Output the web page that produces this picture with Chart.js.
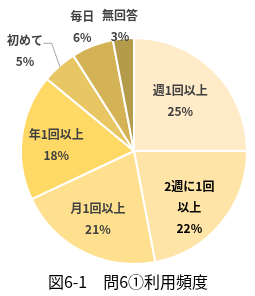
<!DOCTYPE html>
<html>
<head>
<meta charset="utf-8">
<script src="https://cdn.jsdelivr.net/npm/chart.js@4"></script>
<style>
  html, body { margin: 0; padding: 0; background: #fff; }
  #wrap { width: 255px; height: 296px; }
</style>
</head>
<body>
<div id="wrap"><canvas id="pieChart" width="255" height="296"></canvas></div>
<script>
// data
const categories = ['週1回以上', '2週に1回以上', '月1回以上', '年1回以上', '初めて', '毎日', '無回答'];
const percentValues = [25, 22, 21, 18, 5, 6, 3];
// how each label is split across lines
const labelLines = [['週1回以上'], ['2週に1回', '以上'], ['月1回以上'], ['年1回以上'], ['初めて'], ['毎日'], ['無回答']];
const chartTitle = '図6-1　問6①利用頻度';

const sliceColors = ['#FFEBC8', '#FFE4A8', '#FFE08F', '#FFD966', '#E9C664', '#D4B256', '#B49B4A'];

// label placement: radius as fraction of pie radius, angle tweak in degrees
const labelRadius = [0.6, 0.7, 0.68, 0.69, 1.31, 1.19, 1.11];
const labelTurn = [-2, 6, 1, -3, -6, -1, -1];

const labelPlugin = {
  id: 'sliceLabels',
  afterDatasetsDraw(chart) {
    const ctx = chart.ctx;
    const arcs = chart.getDatasetMeta(0).data;
    ctx.save();
    ctx.textAlign = 'center';
    ctx.textBaseline = 'middle';
    arcs.forEach((arc, i) => {
      const mid = (arc.startAngle + arc.endAngle) / 2 + labelTurn[i] * Math.PI / 180;
      const r = arc.outerRadius * labelRadius[i];
      const x = arc.x + Math.cos(mid) * r;
      const y = arc.y + Math.sin(mid) * r;
      const lines = labelLines[i].concat([percentValues[i] + '%']);
      ctx.fillStyle = i === 1 ? '#000000' : '#404040';
      ctx.font = 'bold 12px "Noto Sans CJK JP"';
      const gap = 21;
      const top = y - (lines.length - 1) * gap / 2;
      lines.forEach((t, k) => ctx.fillText(t, x, top + k * gap));

      // leader line for the "初めて" label
      if (i === 4) {
        const a = (arc.startAngle + arc.endAngle) / 2;
        const ex = arc.x + Math.cos(a) * (arc.outerRadius - 1);
        const ey = arc.y + Math.sin(a) * (arc.outerRadius - 1);
        const b = a + 4 * Math.PI / 180;
        const kx = arc.x + Math.cos(b) * arc.outerRadius * 1.2;
        const ky = arc.y + Math.sin(b) * arc.outerRadius * 1.2;
        ctx.strokeStyle = '#A6A6A6';
        ctx.lineWidth = 1;
        ctx.beginPath();
        ctx.moveTo(ex, ey);
        ctx.lineTo(kx, ky);
        ctx.lineTo(kx - 8, ky);
        ctx.stroke();
      }
    });
    // title under the pie
    ctx.fillStyle = '#000000';
    ctx.font = '16px "Noto Sans CJK JP"';
    ctx.fillText(chartTitle, 128, 282);
    ctx.restore();
  }
};

const ctx = document.getElementById('pieChart').getContext('2d');
new Chart(ctx, {
  type: 'pie',
  data: {
    labels: categories,
    datasets: [{
      data: percentValues,
      backgroundColor: sliceColors,
      borderColor: '#FFFFFF',
      borderWidth: 2
    }]
  },
  options: {
    responsive: false,
    animation: false,
    layout: { padding: { left: 20, right: 7, top: 37, bottom: 31 } },
    plugins: {
      legend: { display: false },
      tooltip: { enabled: false },
      title: { display: false }
    }
  },
  plugins: [labelPlugin]
});
</script>
</body>
</html>
